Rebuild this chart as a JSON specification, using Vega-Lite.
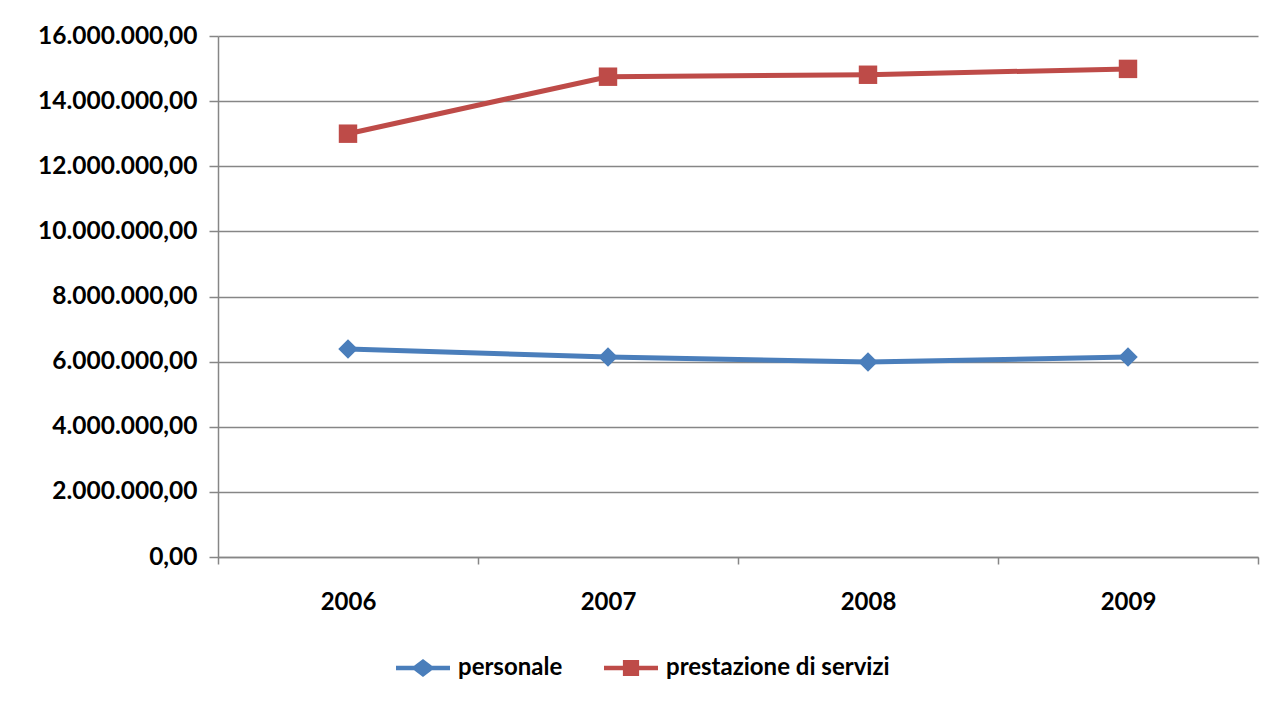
{
  "$schema": "https://vega.github.io/schema/vega-lite/v6.json",
  "autosize": {"type": "none"},
  "width": 1040,
  "height": 521,
  "padding": {"left": 218, "top": 36, "right": 20, "bottom": 144},
  "background": "white",
  "config": {
    "locale": {
      "number": {"decimal": ",", "thousands": ".", "grouping": [3], "currency": ["€", ""]}
    },
    "view": {"stroke": null},
    "font": "Lato"
  },
  "data": {
    "values": [
      {"anno": "2006", "voce": "personale", "importo": 6390000},
      {"anno": "2007", "voce": "personale", "importo": 6140000},
      {"anno": "2008", "voce": "personale", "importo": 5990000},
      {"anno": "2009", "voce": "personale", "importo": 6140000},
      {"anno": "2006", "voce": "prestazione di servizi", "importo": 13000000},
      {"anno": "2007", "voce": "prestazione di servizi", "importo": 14750000},
      {"anno": "2008", "voce": "prestazione di servizi", "importo": 14810000},
      {"anno": "2009", "voce": "prestazione di servizi", "importo": 14990000}
    ]
  },
  "encoding": {
    "x": {
      "field": "anno",
      "type": "ordinal",
      "scale": {"paddingInner": 0, "paddingOuter": 0},
      "axis": {
        "title": null,
        "labelAngle": 0,
        "labelFont": "Lato",
        "labelFontWeight": "bold",
        "labelFontSize": 24,
        "labelColor": "black",
        "labelPadding": 26,
        "tickBand": "extent",
        "ticks": true,
        "tickSize": 7,
        "tickColor": "#868686",
        "tickWidth": 1.5,
        "domainColor": "#868686",
        "domainWidth": 1.5,
        "grid": false
      }
    },
    "y": {
      "field": "importo",
      "type": "quantitative",
      "scale": {"domain": [0, 16000000], "nice": false, "zero": true},
      "axis": {
        "title": null,
        "values": [0, 2000000, 4000000, 6000000, 8000000, 10000000, 12000000, 14000000, 16000000],
        "format": ",.2f",
        "labelFont": "Lato",
        "labelFontWeight": "bold",
        "labelFontSize": 24.5,
        "labelColor": "black",
        "labelPadding": 12,
        "labelLimit": 400,
        "tickSize": 9,
        "tickColor": "#868686",
        "tickWidth": 1.5,
        "domainColor": "#868686",
        "domainWidth": 1.5,
        "grid": true,
        "gridColor": "#868686",
        "gridWidth": 1.5
      }
    }
  },
  "layer": [
    {
      "mark": {"type": "line", "strokeWidth": 5},
      "encoding": {
        "color": {
          "field": "voce",
          "type": "nominal",
          "scale": {
            "domain": ["personale", "prestazione di servizi"],
            "range": ["#4a7ebb", "#be4b48"]
          },
          "legend": {
            "title": null,
            "orient": "none",
            "direction": "horizontal",
            "legendX": 178,
            "legendY": 605,
            "padding": 0,
            "symbolSize": 2916,
            "labelFont": "Lato",
            "labelFontWeight": "bold",
            "labelFontSize": 24,
            "labelColor": "black",
            "labelOffset": 8,
            "labelLimit": 400,
            "columnPadding": 41,
            "encode": {
              "symbols": {
                "update": {
                  "shape": {"signal": "datum.value === 'personale' ? 'M-1,-0.08H-0.33L0,-0.33L0.33,-0.08H1V0.08H0.33L0,0.33L-0.33,0.08H-1Z' : 'M-1,-0.08H-0.3V-0.3H0.3V-0.08H1V0.08H0.3V0.3H-0.3V0.08H-1Z'"},
                  "fill": {"signal": "datum.value === 'personale' ? '#4a7ebb' : '#be4b48'"},
                  "stroke": {"value": "transparent"},
                  "strokeWidth": {"value": 0},
                  "opacity": {"value": 1}
                }
              }
            }
          }
        }
      }
    },
    {
      "transform": [{"filter": "datum.voce === 'personale'"}],
      "mark": {"type": "point", "shape": "diamond", "filled": true, "opacity": 1, "size": 380, "color": "#4a7ebb"}
    },
    {
      "transform": [{"filter": "datum.voce === 'prestazione di servizi'"}],
      "mark": {"type": "point", "shape": "square", "filled": true, "opacity": 1, "size": 340, "color": "#be4b48"}
    }
  ]
}
